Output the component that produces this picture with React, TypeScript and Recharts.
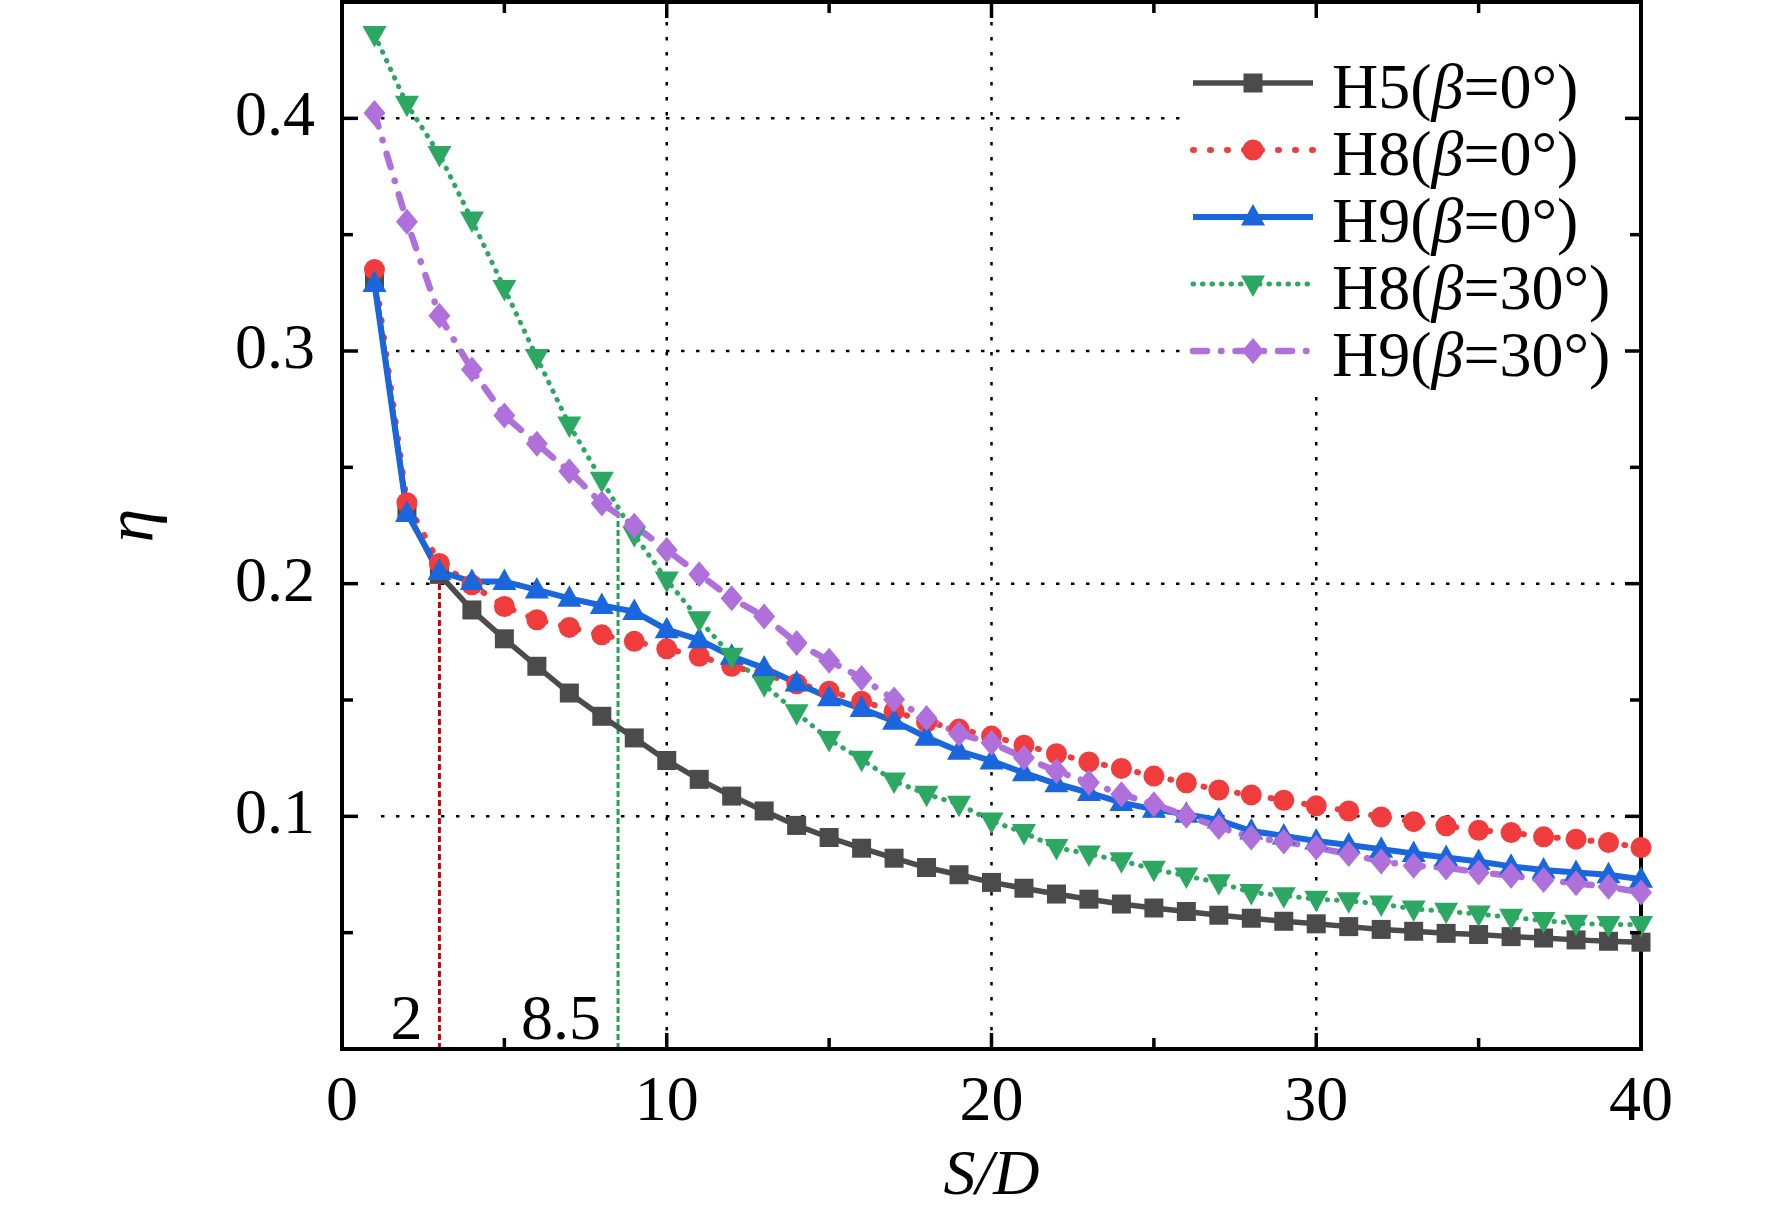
import React from 'react';
import { LineChart, Line, XAxis, YAxis, ReferenceLine, Legend } from 'recharts';

// S/D positions of the measured points
const sd = [1, 2, 3, 4, 5, 6, 7, 8, 9, 10, 11, 12, 13, 14, 15, 16, 17, 18, 19, 20,
  21, 22, 23, 24, 25, 26, 27, 28, 29, 30, 31, 32, 33, 34, 35, 36, 37, 38, 39, 40];

const h5b0 = [0.330, 0.231, 0.204, 0.1887, 0.1763, 0.1645, 0.153, 0.143, 0.1337, 0.124,
  0.1159, 0.1087, 0.1023, 0.0961, 0.0909, 0.0863, 0.082, 0.078, 0.0749, 0.0716,
  0.0691, 0.0666, 0.0644, 0.0623, 0.0606, 0.0591, 0.0575, 0.0562, 0.0549, 0.0538,
  0.0526, 0.0514, 0.0506, 0.0497, 0.0492, 0.0483, 0.0477, 0.0469, 0.0463, 0.0459];

const h8b0 = [0.335, 0.2348, 0.2087, 0.1995, 0.1902, 0.1845, 0.1812, 0.178, 0.1752, 0.172,
  0.1688, 0.1645, 0.161, 0.157, 0.1538, 0.1495, 0.1452, 0.1405, 0.1375, 0.1345,
  0.1306, 0.1269, 0.1234, 0.1206, 0.1173, 0.1144, 0.1113, 0.1092, 0.1069, 0.1045,
  0.1023, 0.0997, 0.0977, 0.0959, 0.094, 0.093, 0.0912, 0.0902, 0.0887, 0.0866];

const h9b0 = [0.329, 0.2302, 0.2052, 0.2009, 0.2009, 0.1973, 0.1937, 0.1906, 0.188, 0.1802,
  0.1759, 0.1688, 0.1637, 0.1573, 0.151, 0.1463, 0.1409, 0.134, 0.128, 0.1238,
  0.1187, 0.114, 0.1102, 0.1059, 0.103, 0.1009, 0.0984, 0.0937, 0.0916, 0.0894,
  0.0877, 0.0859, 0.084, 0.0823, 0.0806, 0.0785, 0.0769, 0.0759, 0.0749, 0.073];

const h8b30 = [0.436, 0.406, 0.3845, 0.3563, 0.3269, 0.2972, 0.2682, 0.2445, 0.221, 0.2016,
  0.1845, 0.1688, 0.1566, 0.1445, 0.133, 0.1245, 0.1152, 0.1095, 0.1052, 0.098,
  0.093, 0.0866, 0.0838, 0.0809, 0.0773, 0.0744, 0.0715, 0.0673, 0.0659, 0.0644,
  0.0637, 0.0623, 0.0602, 0.0592, 0.058, 0.0566, 0.0552, 0.054, 0.0535, 0.0535];

const h9b30 = [0.4023, 0.3555, 0.3152, 0.292, 0.2723, 0.2601, 0.2483, 0.2345, 0.2249, 0.2145,
  0.204, 0.1937, 0.1859, 0.1745, 0.1669, 0.1595, 0.1502, 0.1423, 0.1355, 0.1316,
  0.1252, 0.1195, 0.1145, 0.1095, 0.1052, 0.1002, 0.0954, 0.0909, 0.0892, 0.0866,
  0.0838, 0.0806, 0.0788, 0.078, 0.0759, 0.0745, 0.0726, 0.0712, 0.0697, 0.0673];

const xTicks = [0, 5, 10, 15, 20, 25, 30, 35, 40];
const yTicks = [0.05, 0.1, 0.15, 0.2, 0.25, 0.3, 0.35, 0.4];
const gridY = [0.1, 0.2, 0.3, 0.4];
const gridX = [10, 20, 30];
const X_MAX = 40;
const Y_MAX = 0.45;

// marked S/D values
const markRed = 3;
const markRedLabel = '2';
const markGreen = 8.5;
const markGreenLabel = '8.5';
const markGreenTop = 0.233;

const FONT = '"Liberation Serif", "Times New Roman", serif';

// plot box size (used for the mirrored ticks on top and right)
const PLOT_W = 1299;
const PLOT_H = 1047;

const series = [
  { key: 'h5b0', name: 'H5', angle: '0°', color: '#4b4b4b', width: 5.5, dash: undefined, shape: 'square' },
  { key: 'h8b0', name: 'H8', angle: '0°', color: '#f03c3c', width: 6, dash: '1 16', shape: 'circle' },
  { key: 'h9b0', name: 'H9', angle: '0°', color: '#1a66dc', width: 6, dash: undefined, shape: 'up' },
  { key: 'h8b30', name: 'H8', angle: '30°', color: '#2ca862', width: 5, dash: '0.5 9', shape: 'down' },
  { key: 'h9b30', name: 'H9', angle: '30°', color: '#b070dc', width: 6.5, dash: '14 14 0.5 14', shape: 'diamond' },
];

const data = sd.map((x, i) => ({
  x,
  h5b0: h5b0[i],
  h8b0: h8b0[i],
  h9b0: h9b0[i],
  h8b30: h8b30[i],
  h9b30: h9b30[i],
}));

function Marker({ shape, cx, cy, color }: { shape: string; cx: number; cy: number; color: string }) {
  if (shape === 'square') return <rect x={cx - 9.5} y={cy - 9.5} width={19} height={19} fill={color} />;
  if (shape === 'circle') return <circle cx={cx} cy={cy} r={10.5} fill={color} />;
  if (shape === 'up')
    return <polygon points={`${cx},${cy - 13} ${cx + 12},${cy + 8.5} ${cx - 12},${cy + 8.5}`} fill={color} />;
  if (shape === 'down')
    return <polygon points={`${cx},${cy + 13} ${cx + 12},${cy - 8.5} ${cx - 12},${cy - 8.5}`} fill={color} />;
  return <polygon points={`${cx},${cy - 13} ${cx + 11},${cy} ${cx},${cy + 13} ${cx - 11},${cy}`} fill={color} />;
}

const isMajorY = (v: number) => Math.abs(v * 10 - Math.round(v * 10)) < 1e-6;

const BottomTick = (props: any) => {
  const { x, y, payload } = props;
  const major = payload.value % 10 === 0;
  const len = major ? 16 : 11;
  return (
    <g>
      <line x1={x} y1={y} x2={x} y2={y - len} stroke="#000" strokeWidth={3.5} />
      <line x1={x} y1={y - PLOT_H} x2={x} y2={y - PLOT_H + len} stroke="#000" strokeWidth={3.5} />
      {major && (
        <text x={x} y={y + 71} textAnchor="middle" fontFamily={FONT} fontSize={64} fill="#000">
          {payload.value}
        </text>
      )}
    </g>
  );
};

const LeftTick = (props: any) => {
  const { x, y, payload } = props;
  const major = isMajorY(payload.value);
  const len = major ? 16 : 11;
  return (
    <g>
      <line x1={x} y1={y} x2={x + len} y2={y} stroke="#000" strokeWidth={3.5} />
      <line x1={x + PLOT_W} y1={y} x2={x + PLOT_W - len} y2={y} stroke="#000" strokeWidth={3.5} />
      {major && (
        <text x={x - 27} y={y + 17} textAnchor="end" fontFamily={FONT} fontSize={64} fill="#000">
          {payload.value.toFixed(1)}
        </text>
      )}
    </g>
  );
};

const markLabel = (text: string) => (props: any) => {
  const vb = props.viewBox;
  return (
    <text x={vb.x - 17} y={vb.y + vb.height - 10} textAnchor="end" fontFamily={FONT} fontSize={64} fill="#000">
      {text}
    </text>
  );
};

const LegendBox = () => (
  <svg width={443} height={374}>
    {series.map((s, i) => {
      const cy = 63 + 67 * i;
      return (
        <g key={s.key}>
          <line x1={13} y1={cy} x2={133} y2={cy} stroke={s.color} strokeWidth={s.width}
            strokeDasharray={s.dash} strokeLinecap={s.dash ? 'round' : 'butt'} />
          <Marker shape={s.shape} cx={73} cy={cy} color={s.color} />
          <text x={152} y={cy + 25} fontFamily={FONT} fontSize={64} fill="#000">
            {s.name}(<tspan fontStyle="italic">β</tspan>={s.angle})
          </text>
        </g>
      );
    })}
  </svg>
);

const frame = [
  [{ x: 0, y: 0 }, { x: X_MAX, y: 0 }],
  [{ x: 0, y: Y_MAX }, { x: X_MAX, y: Y_MAX }],
  [{ x: 0, y: 0 }, { x: 0, y: Y_MAX }],
  [{ x: X_MAX, y: 0 }, { x: X_MAX, y: Y_MAX }],
];

export default function App() {
  return (
    <div style={{ position: 'absolute', left: 0, top: 0, background: '#fff' }}>
      <LineChart width={1772} height={1215} data={data} margin={{ top: 2, right: 131, bottom: 106, left: 242 }}>
        <XAxis type="number" dataKey="x" domain={[0, X_MAX]} ticks={xTicks} interval={0}
          height={60} tickSize={0} tickMargin={0} tickLine={false} tick={<BottomTick />} axisLine={false}
          label={(p: any) => (
            <text x={p.viewBox.x + p.viewBox.width / 2} y={p.viewBox.y + 145} textAnchor="middle"
              fontFamily={FONT} fontSize={64} fontStyle="italic" fill="#000">S/D</text>
          )} />
        <YAxis type="number" domain={[0, Y_MAX]} ticks={yTicks} interval={0} width={100}
          tickSize={0} tickMargin={0} tickLine={false} tick={<LeftTick />} axisLine={false}
          label={(p: any) => (
            <text x={153} y={p.viewBox.y + p.viewBox.height / 2} textAnchor="middle"
              transform={`rotate(-90, 153, ${p.viewBox.y + p.viewBox.height / 2})`}
              fontFamily={FONT} fontSize={68} fontStyle="italic" fill="#000">η</text>
          )} />

        {gridY.map((v) => (
          <ReferenceLine key={'gy' + v} segment={[{ x: 1.2, y: v }, { x: 39.4, y: v }]}
            stroke="#000" strokeWidth={2.5} strokeDasharray="3.5 11.5" />
        ))}
        {gridX.map((v) => (
          <ReferenceLine key={'gx' + v} segment={[{ x: v, y: 0.008 }, { x: v, y: 0.442 }]}
            stroke="#000" strokeWidth={2.5} strokeDasharray="3.5 11.5" />
        ))}

        <ReferenceLine segment={[{ x: markRed, y: 0 }, { x: markRed, y: h9b0[2] }]}
          stroke="#c8000a" strokeWidth={3} strokeDasharray="6 3" label={markLabel(markRedLabel)} />
        <ReferenceLine segment={[{ x: markGreen, y: 0 }, { x: markGreen, y: markGreenTop }]}
          stroke="#1fa552" strokeWidth={3} strokeDasharray="6 3" label={markLabel(markGreenLabel)} />

        {series.map((s) => (
          <Line key={s.key} type="linear" dataKey={s.key} name={`${s.name}(β=${s.angle})`}
            stroke={s.color} strokeWidth={s.width} strokeDasharray={s.dash}
            strokeLinecap={s.dash ? 'round' : 'butt'} isAnimationActive={false} activeDot={false}
            dot={(p: any) => <Marker key={s.key + p.index} shape={s.shape} cx={p.cx} cy={p.cy} color={s.color} />} />
        ))}

        {frame.map((seg, i) => (
          <ReferenceLine key={'frame' + i} segment={seg} stroke="#000" strokeWidth={4} strokeLinecap="square" />
        ))}

        <Legend layout="vertical" align="center" verticalAlign="middle"
          wrapperStyle={{ left: 1180, top: 20, width: 443, height: 374, background: '#fff' }}
          content={() => <LegendBox />} />
      </LineChart>
    </div>
  );
}
